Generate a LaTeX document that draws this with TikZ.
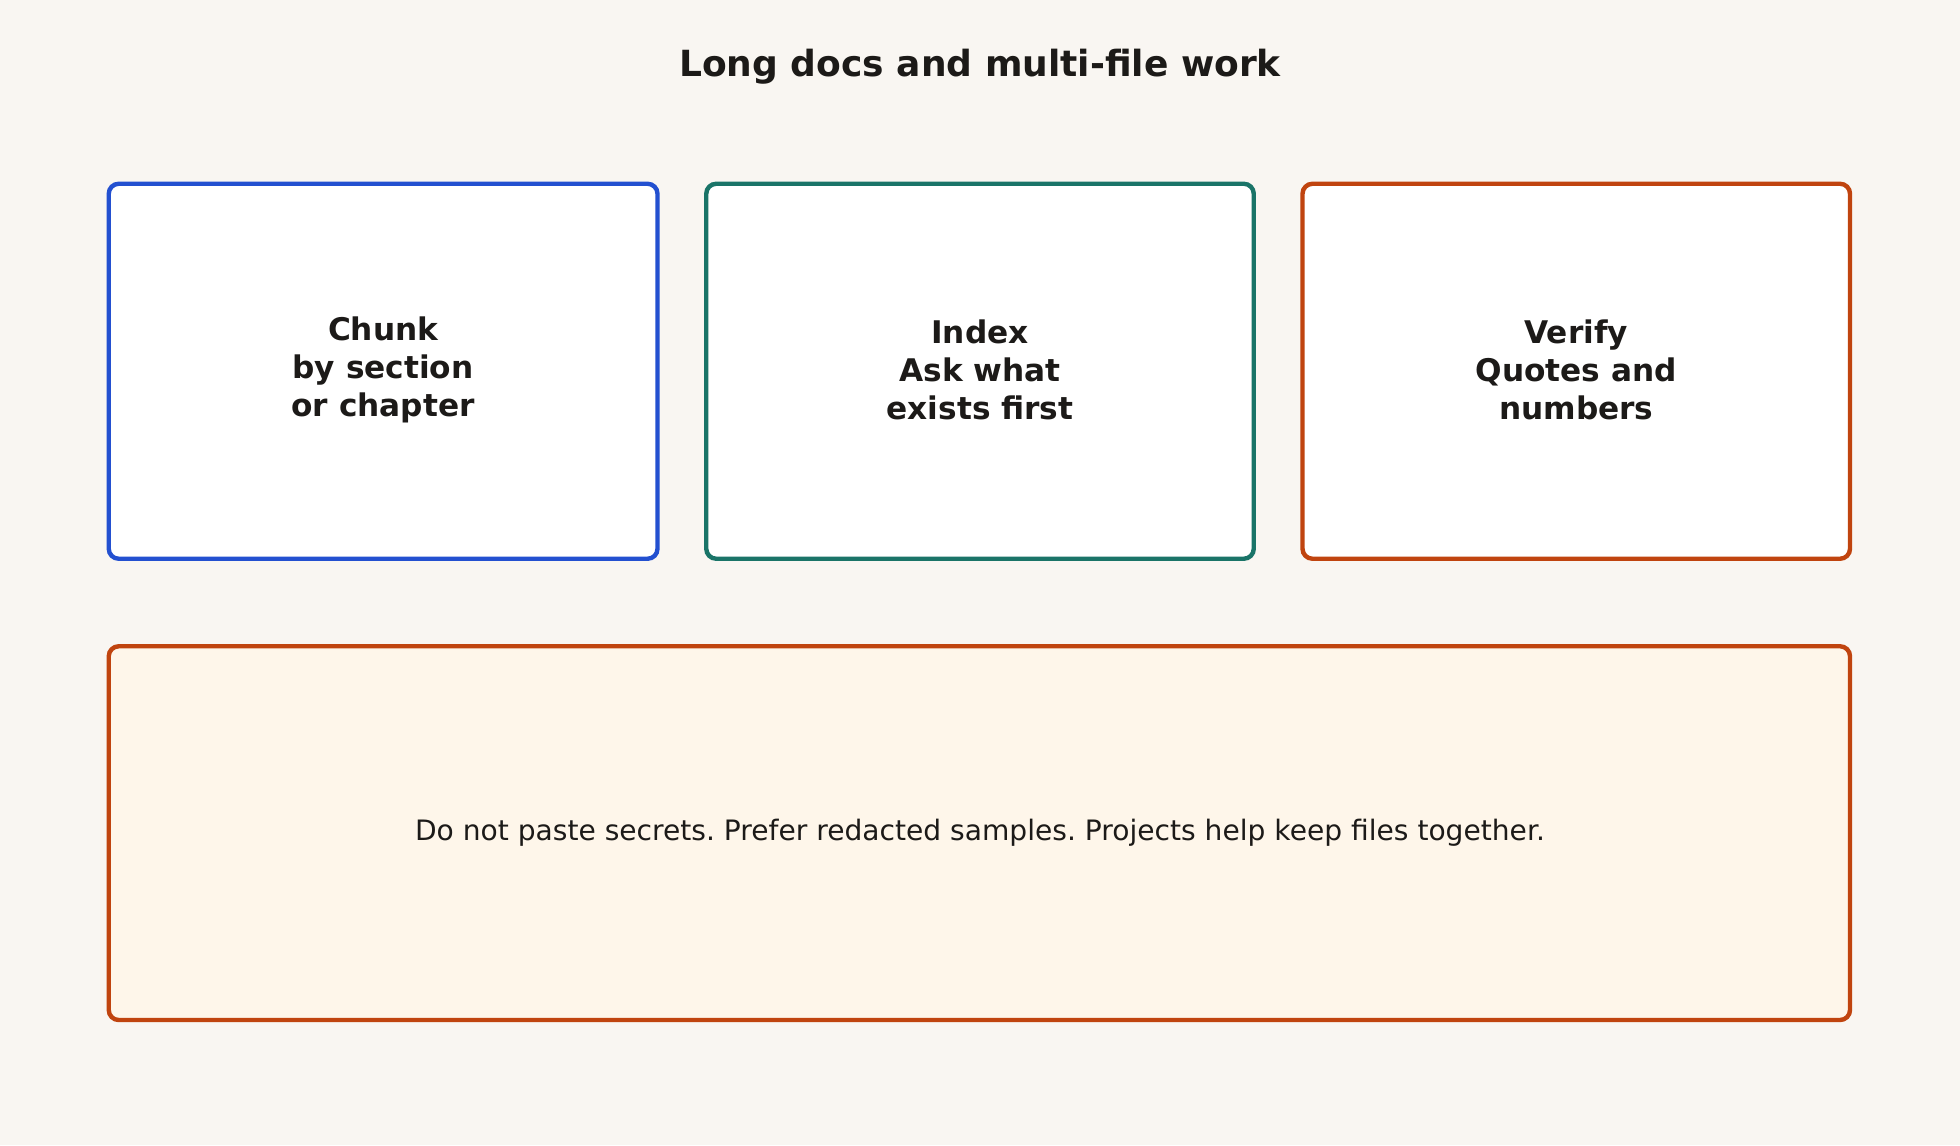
\documentclass[tikz,border=0pt]{standalone}
\usepackage{fontspec}
\setmainfont{DejaVu Sans}
\begin{document}
\frenchspacing
\begin{tikzpicture}[x=0.05cm,y=-0.05cm,
  box/.style={draw, line width=5pt, rounded corners=0.4cm, fill=white},
  lbl/.style={font=\fontsize{35.5}{43}\selectfont\bfseries, align=center, text=textc}]
\definecolor{bg}{HTML}{F9F6F2}
\definecolor{textc}{HTML}{1C1A18}
\definecolor{cblue}{HTML}{2350D0}
\definecolor{cteal}{HTML}{1A7468}
\definecolor{corange}{HTML}{C0440F}
\definecolor{cream}{HTML}{FEF6EA}
\fill[bg] (0,0) rectangle (1568,916);
\useasboundingbox (0,0) rectangle (1568,916);
\node[font=\fontsize{41}{48}\selectfont\bfseries, text=textc] (title) at (784,53) {Long docs and multi-file work};
\draw[box, draw=cblue] (87,147) rectangle (526,447);
\draw[box, draw=cteal] (565,147) rectangle (1003,447);
\draw[box, draw=corange] (1042,147) rectangle (1480,447);
\draw[box, draw=corange, fill=cream] (87,517) rectangle (1480,816);
\node[lbl] (a) at (306.5,296) {Chunk\\by section\\or chapter};
\node[lbl] (b) at (784,296) {Index\\Ask what\\exists first};
\node[lbl] (c) at (1261,296) {Verify\\Quotes and\\numbers};
\node[font=\fontsize{32}{38}\selectfont, text=textc] (d) at (784,666) {Do not paste secrets. Prefer redacted samples. Projects help keep files together.};
\end{tikzpicture}
\end{document}
